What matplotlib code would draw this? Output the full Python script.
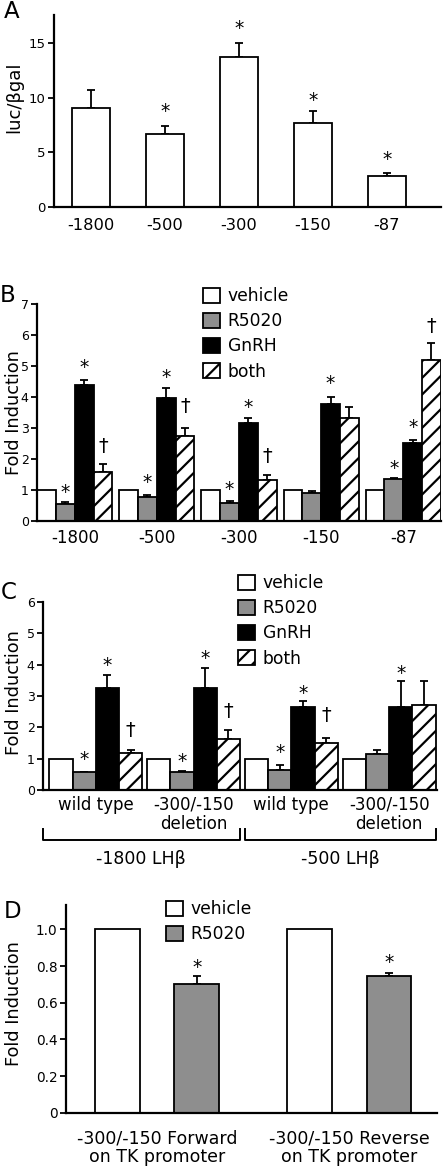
import numpy as np
import matplotlib
matplotlib.use("Agg")
from matplotlib import pyplot as plt

plt.rcParams['font.family'] = ['DejaVu Sans']
plt.rcParams['hatch.linewidth'] = 1.6

W, H = 444, 1167
GRAY = "#8e8e8e"
FS = 12

# ---- panel A ----
a_labels = ["-1800", "-500", "-300", "-150", "-87"]
a_vals = [9.05, 6.7, 13.7, 7.7, 2.87]
a_err = [1.65, 0.7, 1.3, 1.1, 0.28]
a_star = [None, 9.2, 16.8, 10.2, 4.85]

# ---- panel B ----
b_labels = ["-1800", "-500", "-300", "-150", "-87"]
b_vehicle = [1, 1, 1, 1, 1]
b_r5020 = [0.54, 0.75, 0.56, 0.88, 1.34]
b_r5020_err = [0.05, 0.08, 0.08, 0.08, 0.04]
b_gnrh = [4.37, 3.96, 3.15, 3.77, 2.50]
b_gnrh_err = [0.18, 0.33, 0.18, 0.22, 0.10]
b_both = [1.58, 2.74, 1.31, 3.33, 5.19]
b_both_err = [0.25, 0.26, 0.17, 0.35, 0.54]
b_r5020_star = [1.1, 1.42, 1.2, None, 1.85]
b_gnrh_star = [5.14, 4.8, 3.85, 4.6, 3.2]
b_both_dagger = [2.4, 3.7, 2.1, None, 6.3]

# ---- panel C ----
c_labels = ["wild type", "-300/-150\ndeletion", "wild type", "-300/-150\ndeletion"]
c_brackets = ["-1800 LH\u03b2", "-500 LH\u03b2"]
c_vehicle = [1, 1, 1, 1]
c_r5020 = [0.56, 0.56, 0.64, 1.14]
c_r5020_err = [0.02, 0.04, 0.16, 0.14]
c_gnrh = [3.25, 3.25, 2.66, 2.66]
c_gnrh_err = [0.43, 0.63, 0.18, 0.82]
c_both = [1.17, 1.62, 1.51, 2.71]
c_both_err = [0.11, 0.29, 0.16, 0.77]
c_r5020_star = [1.15, 1.1, 1.38, None]
c_gnrh_star = [4.15, 4.37, 3.25, 3.88]
c_both_dagger = [1.9, 2.5, 2.4, None]

# ---- panel D ----
d_labels = ["-300/-150 Forward\non TK promoter", "-300/-150 Reverse\non TK promoter"]
d_vehicle = [1, 1]
d_r5020 = [0.70, 0.747]
d_r5020_err = [0.045, 0.017]
d_r5020_star = [0.82, 0.85]

series_names = ["vehicle", "R5020", "GnRH", "both"]


def px_axes(fig, left, top, right, bottom):
    return fig.add_axes([left / W, 1 - bottom / H, (right - left) / W, (bottom - top) / H])


def style(ax, yfs, xpad):
    for s in ["top", "right"]:
        ax.spines[s].set_visible(False)
    for s in ["left", "bottom"]:
        ax.spines[s].set_linewidth(1.6)
    ax.tick_params(axis="y", length=4, width=1.3, labelsize=yfs, pad=2)
    ax.tick_params(axis="x", length=0, labelsize=FS, pad=xpad)


def mark(ax, x, y, s, fs=13):
    if y is None:
        return
    off = -0.59 * fs if s == "*" else -0.3 * fs
    ax.annotate(s, (x, y), xytext=(0, off), textcoords="offset points",
                ha="center", va="baseline", fontsize=fs)


def ebar(ax, x, vals, err):
    ax.errorbar(x, vals, yerr=[np.zeros(len(err)), err], fmt="none",
                ecolor="k", elinewidth=1.3, capsize=3, capthick=1.3, zorder=1)


def grouped(ax, data, errs, marks, w):
    n = len(data[0])
    g = np.arange(n)
    bars = []
    for i, vals in enumerate(data):
        x = g + (i - 1.5) * w
        kw = dict(width=w, edgecolor="k", linewidth=1.3, zorder=2)
        if i == 0:
            b = ax.bar(x, vals, color="white", **kw)
        elif i == 1:
            b = ax.bar(x, vals, color=GRAY, **kw)
        elif i == 2:
            b = ax.bar(x, vals, color="black", **kw)
        else:
            b = ax.bar(x, vals, color="white", hatch="//", **kw)
        bars.append(b)
        if errs[i] is not None:
            ebar(ax, x, vals, errs[i])
        if marks[i] is not None:
            sym = "\u2020" if i == 3 else "*"
            for xi, yi in zip(x, marks[i]):
                mark(ax, xi, yi, sym, 14 if i == 3 else 13.5)
    return bars


def add_legend(ax, fig, handles, labels, left, top):
    ax.legend(handles, labels, loc="upper left", bbox_to_anchor=(left / W, 1 - top / H),
              bbox_transform=fig.transFigure, frameon=False, fontsize=12.3,
              handlelength=1.0, handleheight=1.0, handletextpad=0.45,
              labelspacing=0.42, borderpad=0, borderaxespad=0)


fig = plt.figure(figsize=(W / 100, H / 100), dpi=100)

# Panel A
axA = px_axes(fig, 54, 15, 441, 207)
xa = np.arange(len(a_vals))
axA.bar(xa, a_vals, width=0.52, color="white", edgecolor="k", linewidth=1.3, zorder=2)
ebar(axA, xa, a_vals, a_err)
for xi, yi in zip(xa, a_star):
    mark(axA, xi, yi, "*", 13.5)
axA.set_xlim(-0.5, 4.73)
axA.set_ylim(0, 17.55)
axA.set_yticks([0, 5, 10, 15])
axA.set_xticks(xa)
axA.set_xticklabels(a_labels)
style(axA, 9.5, 8)
axA.tick_params(axis="x", labelsize=11.7)
axA.set_ylabel("luc/\u03b2gal", fontsize=13)
axA.yaxis.set_label_coords(23 / W, 1 - 97 / H, transform=fig.transFigure)

# Panel B
axB = px_axes(fig, 37, 304, 441, 520.7)
hb = grouped(axB, [b_vehicle, b_r5020, b_gnrh, b_both],
             [None, b_r5020_err, b_gnrh_err, b_both_err],
             [None, b_r5020_star, b_gnrh_star, b_both_dagger], 0.229)
axB.set_xlim(-0.46, 4.46)
axB.set_ylim(0, 7)
axB.set_yticks(range(8))
axB.set_xticks(range(len(b_labels)))
axB.set_xticklabels(b_labels)
style(axB, 9, 6)
axB.set_ylabel("Fold Induction", fontsize=12.8)
axB.yaxis.set_label_coords(23 / W, 1 - 413 / H, transform=fig.transFigure)
add_legend(axB, fig, hb, series_names, 203, 287)

# Panel C
axC = px_axes(fig, 43, 602, 437, 790)
hc = grouped(axC, [c_vehicle, c_r5020, c_gnrh, c_both],
             [None, c_r5020_err, c_gnrh_err, c_both_err],
             [None, c_r5020_star, c_gnrh_star, c_both_dagger], 0.238)
axC.set_xlim(-0.54, 3.49)
axC.set_ylim(0, 6)
axC.set_yticks(range(7))
axC.set_xticks(range(len(c_labels)))
axC.set_xticklabels(c_labels, linespacing=1.1)
style(axC, 9, 4)
axC.set_ylabel("Fold Induction", fontsize=12.8)
axC.yaxis.set_label_coords(23 / W, 1 - 693 / H, transform=fig.transFigure)
add_legend(axC, fig, hc, series_names, 238, 574)
# brackets under the tick labels
for k, lab in enumerate(c_brackets):
    x0 = 2 * k - 0.54 if k == 0 else 2 * k - 0.47
    x1 = 2 * k + 1.47 if k == 0 else 2 * k + 1.48
    axC.plot([x0, x0, x1, x1], [-1.25, -1.6, -1.6, -1.25], color="k", lw=1.4, clip_on=False)
    axC.text((x0 + x1) / 2, -2.2, lab, ha="center", va="center", fontsize=12.5)

# Panel D
axD = px_axes(fig, 66, 905, 437, 1112.7)
gd = np.arange(len(d_vehicle))
hv = axD.bar(gd - 0.207, d_vehicle, width=0.234, color="white", edgecolor="k", linewidth=1.3, zorder=2)
hr = axD.bar(gd + 0.207, d_r5020, width=0.234, color=GRAY, edgecolor="k", linewidth=1.3, zorder=2)
ebar(axD, gd + 0.207, d_r5020, d_r5020_err)
for xi, yi in zip(gd + 0.207, d_r5020_star):
    mark(axD, xi, yi, "*", 13.5)
axD.set_xlim(-0.475, 1.457)
axD.set_ylim(0, 1.133)
axD.set_yticks([0, 0.2, 0.4, 0.6, 0.8, 1.0])
axD.set_yticklabels(["0", "0.2", "0.4", "0.6", "0.8", "1.0"])
axD.set_xticks(gd)
axD.set_xticklabels(d_labels, linespacing=1.05)
style(axD, 9.8, 12)
axD.tick_params(axis="x", labelsize=12.5)
axD.set_ylabel("Fold Induction", fontsize=12.8)
axD.yaxis.set_label_coords(23 / W, 1 - 1004 / H, transform=fig.transFigure)
add_legend(axD, fig, [hv, hr], series_names[:2], 166, 900)

# panel letters
for lab, (x, y) in zip("ABCD", [(4, 12), (0, 295), (1, 592), (4, 912)]):
    fig.text(x / W, 1 - y / H, lab, fontsize=16.5, ha="left", va="center")

fig.savefig("out.png", dpi=100)
